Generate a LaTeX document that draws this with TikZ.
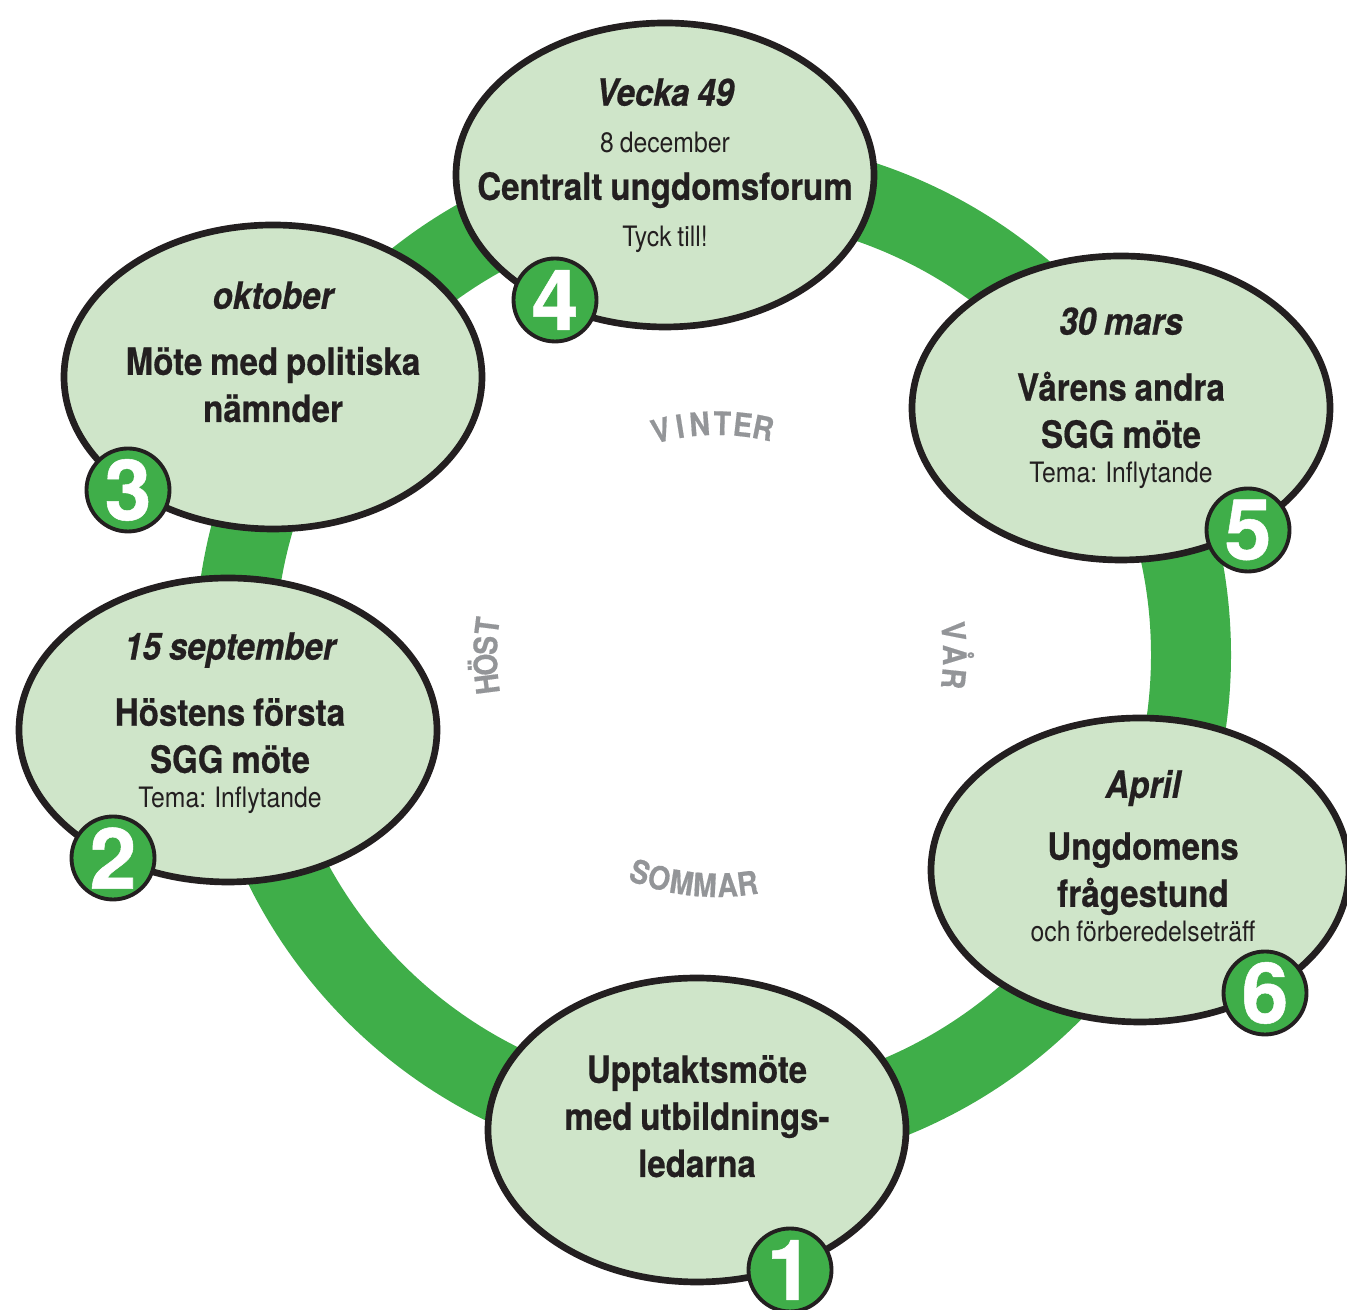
\documentclass[tikz,border=0pt]{standalone}
\usepackage{fontspec}
\setmainfont{TeX Gyre Heros}[FakeStretch=0.88, WordSpace=0.85,
  BoldFeatures={FakeBold=0.5}, BoldItalicFeatures={FakeBold=0.5}]
\newfontfamily\digitfont{TeX Gyre Heros}[BoldFeatures={FakeBold=0.6}]
\usetikzlibrary{shapes.geometric}

\definecolor{ringgreen}{HTML}{3FAE49}
\definecolor{paleleaf}{HTML}{CFE5C9}
\definecolor{inkblack}{HTML}{231F20}
\definecolor{seasongray}{HTML}{939598}

\newcommand\datetext[1]{{\itshape #1}}
\newcommand\smalltext[1]{{\mdseries\fontsize{8}{9.6}\selectfont #1}}

\begin{document}
\begin{tikzpicture}[
  x=0.1mm, y=0.1mm,
  event/.style={ellipse, draw=inkblack, fill=paleleaf, line width=1.9pt,
    minimum width=41.8mm, minimum height=30.4mm, inner sep=0pt},
  badge/.style={circle, draw=inkblack, fill=ringgreen, line width=1.1pt,
    minimum size=8.3mm, inner sep=0pt, text=white,
    font=\digitfont\bfseries\fontsize{24}{24}\selectfont},
  info/.style={align=center, anchor=base, inner sep=0pt, text=inkblack,
    font=\bfseries\fontsize{10.7}{13.4}\selectfont},
  season/.style={anchor=base, inner sep=0pt, text=seasongray,
    font=\bfseries\fontsize{9.2}{9.2}\selectfont},
]
  \useasboundingbox (0,0) rectangle (1347,1310);
  \coordinate (hub) at (713,655);
  \draw[ringgreen, line width=8mm] (hub) circle[radius=478];

  % the six meetings
  \node[event] (e1) at (697,180) {};
  \node[event] (e2) at (228,580) {};
  \node[event] (e3) at (273,933) {};
  \node[event] (e4) at (665,1135) {};
  \node[event] (e5) at (1121,902) {};
  \node[event] (e6) at (1140,440) {};

  % text sits on the baseline of its last line
  \node[info] (t1) at (697,133) {Upptaktsmöte\\med utbildnings-\\ledarna};
  \node[info] (t2) at (230,502) {\datetext{15 september}\\[5.4pt]Höstens första\\SGG möte\\[-3.4pt]\smalltext{Tema: Inflytande}};
  \node[info] (t3) at (273,888) {\datetext{oktober}\\[5.4pt]Möte med politiska\\nämnder};
  \node[info] (t4) at (665,1063) {\datetext{Vecka 49}\\\smalltext{8 december}\\Centralt ungdomsforum\\\smalltext{Tyck till!}};
  \node[info] (t5) at (1121,827) {\datetext{30 mars}\\[5.4pt]Vårens andra\\SGG möte\\[-3.4pt]\smalltext{Tema: Inflytande}};
  \node[info] (t6) at (1143,368) {\datetext{April}\\[4.2pt]Ungdomens\\frågestund\\[-3.4pt]\smalltext{och förberedelseträff}};

  \node[badge] (b1) at (790,40) {1};
  \node[badge] (b2) at (113,452) {2};
  \node[badge] (b3) at (128,820) {3};
  \node[badge] (b4) at (555,1010) {4};
  \node[badge] (b5) at (1248,780) {5};
  \node[badge] (b6) at (1265,317) {6};

  % seasons, one letter at a time round the hub
  \foreach \ch/\a [count=\i] in {V/104,I/99.2,N/94.3,T/88.7,E/83.6,R/78.5}
    \node[season, rotate=\a-90] (vinter\i) at ([shift={(\a:220)}]717,655) {\ch};
  \foreach \ch/\a [count=\i] in {H/187.2,Ö/182.4,S/177.6,T/172.8}
    \node[season, rotate=\a-90] (host\i) at ([shift={(\a:220)}]717,655) {\ch};
  \foreach \ch/\a [count=\i] in {V/5.7,Å/0,R/-5.7}
    \node[season, rotate=\a-90] (var\i) at ([shift={(\a:226)}]717,655) {\ch};
  \foreach \ch/\a [count=\i] in {S/250.5,O/255.5,M/261.2,M/267,A/272.6,R/277.6}
    \node[season, rotate=\a+90] (sommar\i) at ([shift={(\a:242)}]717,655) {\ch};
\end{tikzpicture}
\end{document}
